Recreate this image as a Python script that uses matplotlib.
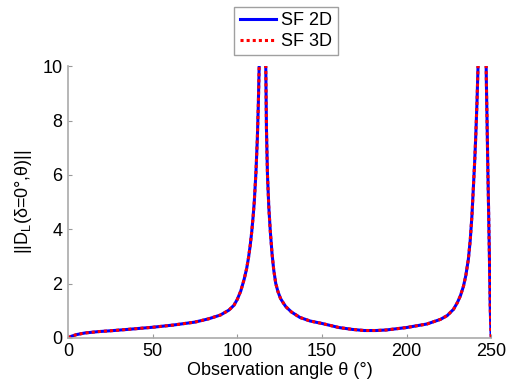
import matplotlib
matplotlib.use('Agg')

import matplotlib.pyplot as plt

plt.rcParams['font.family'] = ['Liberation Sans', 'DejaVu Sans']
plt.rcParams['mathtext.default'] = 'regular'

# values (theta in degrees, |D_L|)
theta = [0, 2, 5, 10, 18, 25, 35, 50, 62, 75, 83, 90, 95, 98, 100, 102, 104,
         105.5, 106.6, 107.6, 108.5, 109.3, 110, 111, 111.8, 112.4, 112.9,
         113.5,
         116.2, 116.8, 117.2, 117.8, 118.6, 119.5, 120.5, 121.5, 122.7, 124,
         125.5, 127, 128.6, 132, 137, 143,
         150, 160, 168, 175, 182, 188, 200, 212, 220, 224, 227.7, 230, 231.8,
         233.6, 235, 236.5, 237.6, 238.6, 239.5, 240.3, 240.9, 241.6, 242.2,
         242.8,
         246.6, 247.1, 247.5, 248, 248.5, 249, 249.4, 249.8, 250]
dl = [0, 0.06, 0.12, 0.18, 0.23, 0.26, 0.31, 0.39, 0.47, 0.58, 0.7, 0.84,
      1.02, 1.2, 1.42, 1.72, 2.15, 2.55, 2.95, 3.4, 3.9, 4.45, 5.0, 6.1, 7.3,
      8.6, 10.0, 12.0,
      12.0, 10.0, 7.7, 6.0, 4.8, 3.9, 3.1, 2.5, 2.0, 1.7, 1.45, 1.3, 1.15,
      0.95, 0.75, 0.62,
      0.53, 0.38, 0.31, 0.27, 0.27, 0.29, 0.38, 0.51, 0.68, 0.82, 1.05,
      1.3, 1.55, 1.9, 2.3, 2.9, 3.6, 4.5, 5.6, 6.6, 7.5, 8.7, 10.0, 12.0,
      12.0, 9.5, 8.1, 6.2, 4.5, 2.7, 1.1, 0.3, 0]

xticks = [0, 50, 100, 150, 200, 250]
yticks = [0, 2, 4, 6, 8, 10]

fig = plt.figure(figsize=(5.08, 3.87), dpi=100)
ax = fig.add_axes([0.134, 0.127, 0.833, 0.702])

ax.plot(theta, dl, color='#0000ff', lw=2.2, label='SF 2D')
ax.plot(theta, dl, color='#ff0000', lw=2.2, ls=(0, (1, 1)), label='SF 3D')

ax.set_xlim(0, 250)
ax.set_ylim(0, 10)
ax.set_xticks(xticks)
ax.set_yticks(yticks)
ax.tick_params(direction='in', length=3, color='#999999', labelsize=13,
               pad=4)
for s in ['top', 'right']:
    ax.spines[s].set_visible(False)
for s in ['left', 'bottom']:
    ax.spines[s].set_color('#aaaaaa')
    ax.spines[s].set_linewidth(1.2)

ax.set_xlabel('Observation angle θ (°)', fontsize=13, labelpad=1)
ax.set_ylabel('||D$_{L}$(δ=0°,θ)||', fontsize=13, labelpad=6)

leg = ax.legend(loc='lower center', bbox_to_anchor=(0.515, 1.04), fontsize=13,
                frameon=True, fancybox=False, handlelength=2.0,
                handletextpad=0.3, borderpad=0.3, labelspacing=0.2,
                borderaxespad=0)
leg.get_frame().set_edgecolor('#888888')
leg.get_frame().set_linewidth(1.0)

plt.savefig('out.png', dpi=100)
